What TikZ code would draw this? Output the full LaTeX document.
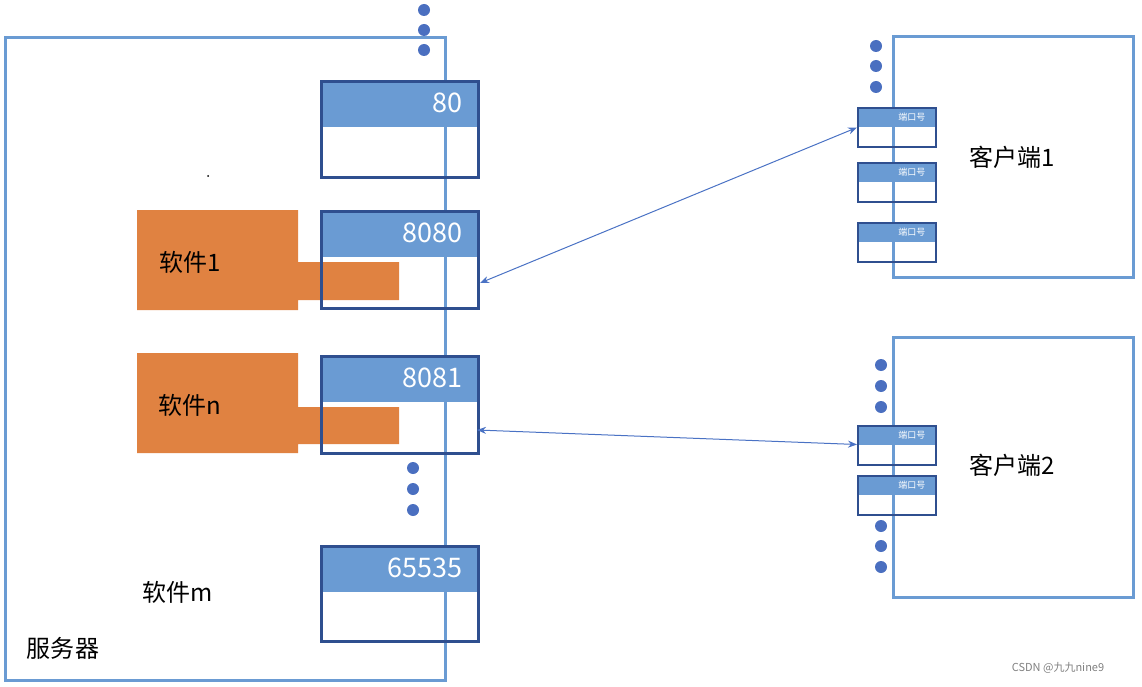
\documentclass[tikz,border=0pt]{standalone}
\usepackage{fontspec}
\setmainfont{Noto Sans CJK SC}
\usetikzlibrary{arrows.meta}
\definecolor{lb}{HTML}{6A9BD3}
\definecolor{db}{HTML}{2F4F8F}
\definecolor{hb}{HTML}{6A9BD3}
\definecolor{dotc}{HTML}{4A6FC0}
\definecolor{org}{HTML}{E08241}
\definecolor{ac}{HTML}{4A72C4}
\begin{document}
\begin{tikzpicture}[x=1pt,y=-1pt,
  frame/.style={draw=lb,line width=3pt},
  pbox/.style={draw=db,line width=3pt},
  hdr/.style={fill=hb},
  dot/.style={circle,fill=dotc,inner sep=0pt,minimum size=12pt},
  num/.style={text=white,font=\fontsize{27}{27}\selectfont,anchor=east},
  lab/.style={font=\fontsize{24}{24}\selectfont},
  small/.style={text=white,font=\fontsize{9}{9}\selectfont,anchor=east},
  arr/.style={draw=ac,line width=1pt,{Stealth[length=9pt,width=7pt]}-{Stealth[length=9pt,width=7pt]}}]
\useasboundingbox (0,0) rectangle (1142,687);
% orange software blocks
\fill[org] (137,210) rectangle (298,310) (298,262) rectangle (399,300);
\fill[org] (137,353) rectangle (298,453) (298,407) rectangle (399,444);
% server frame
\draw[frame] (5,38) rectangle (445,680);
\foreach \y in {10,30,50} \node[dot] at (424,\y) {};
\foreach \y in {468,489,510} \node[dot] at (413,\y) {};
% server port boxes
\foreach \t/\b/\n/\nm in {80/176/80/p80,210/307/8080/p8080,355/452/8081/p8081,545/640/65535/p65535}{
  \fill[hb] (320,\t) rectangle (477,\t+47);
  \node[pbox,minimum width=157pt,minimum height=\b-\t,inner sep=0pt,anchor=north west] (\nm) at (320,\t) {};
  \node[num] at (466,\t+23) {\n};
}
\node[lab] (s1) at (190,262) {软件1};
\node[lab] (sn) at (190,405) {软件n};
\node[lab] (sm) at (178,592) {软件m};
\node[lab] (srv) at (63,648) {服务器};
\fill (208,176) circle (1pt);
% clients
\draw[frame] (893,37) rectangle (1133,277);
\draw[frame] (893,337) rectangle (1133,597);
\foreach \y in {46,66,87} \node[dot] at (876,\y) {};
\foreach \y in {365,386,407,526,546,567} \node[dot] at (881,\y) {};
\foreach \t/\nm in {107/c1a,162/c1b,222/c1c,425/c2a,475/c2b}{
  \fill[hb] (857,\t) rectangle (935,\t+20);
  \node[draw=db,line width=2pt,minimum width=78pt,minimum height=39pt,inner sep=0pt,anchor=north west] (\nm) at (857,\t) {};
  \node[small] at (929,\t+10) {端口号};
}
\node[lab] (cl1) at (1012,157) {客户端1};
\node[lab] (cl2) at (1012,465) {客户端2};
\coordinate (a1) at (480,283);
\coordinate (a2) at (477,430);
\draw[arr] (a1) -- (c1a.west);
\draw[arr] (a2) -- ([yshift=1pt]c2a.west);
\node[text=gray,font=\fontsize{11}{11}\selectfont] (wm) at (1058,668) {CSDN @九九nine9};
\end{tikzpicture}
\end{document}
